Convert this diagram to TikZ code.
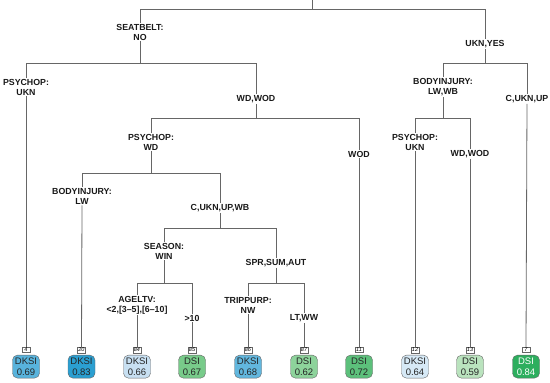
\documentclass[tikz,border=0pt]{standalone}
\usepackage{fontspec}
\setmainfont{Liberation Sans}
\usepackage{tikz}
\usetikzlibrary{positioning}
\usepackage{xcolor}
\definecolor{edgegray}{HTML}{666666}
\definecolor{dksiA}{HTML}{58B3DC}
\definecolor{dksiB}{HTML}{2B9FD1}
\definecolor{dksiC}{HTML}{C8E0F2}
\definecolor{dksiD}{HTML}{62B7DE}
\definecolor{dksiE}{HTML}{D6E9F6}
\definecolor{dsiA}{HTML}{78CB8A}
\definecolor{dsiB}{HTML}{8DD39B}
\definecolor{dsiC}{HTML}{5CC07B}
\definecolor{dsiD}{HTML}{BAE3BE}
\definecolor{dsiE}{HTML}{2DAE5E}

\begin{document}
\begin{tikzpicture}[
      x=1pt, y=-1pt,
      node distance=2pt,
      split/.style={font=\bfseries\fontsize{8.8}{10}\selectfont, align=center,
                    inner sep=1pt, text=black!90},
      leafbox/.style={draw=edgegray, rounded corners=5pt, minimum width=27pt,
                      minimum height=23pt, inner sep=0pt, align=center,
                      font=\fontsize{9.5}{10.5}\selectfont, text=black!85},
      tag/.style={draw=edgegray, fill=white, inner sep=0.8pt, minimum width=8pt,
                  font=\itshape\fontsize{5.5}{5.5}\selectfont},
      edge/.style={draw=edgegray, line width=0.8pt}
    ]
    \useasboundingbox (0,0) rectangle (550,383);
    \coordinate (top) at (312,0);
    % splits
    \node[split] (seat) at (140,32) {SEATBELT:\\NO};
    \node[split] (ukyes) at (485,44) {UKN,YES};
    \node[split] (psyA) at (26,87) {PSYCHOP:\\UKN};
    \node[split] (wdwod) at (256,99) {WD,WOD};
    \node[split] (bodyB) at (443,87) {BODYINJURY:\\LW,WB};
    \node[split] (cukup) at (527,99) {C,UKN,UP};
    \node[split] (psyB) at (151,142) {PSYCHOP:\\WD};
    \node[split] (wod) at (359,154) {WOD};
    \node[split] (psyC) at (415,142) {PSYCHOP:\\UKN};
    \node[split] (wdwodB) at (470,154) {WD,WOD};
    \node[split] (bodyA) at (82,196) {BODYINJURY:\\LW};
    \node[split] (cukn) at (220,208) {C,UKN,UP,WB};
    \node[split] (season) at (164,251) {SEASON:\\WIN};
    \node[split] (spr) at (276,263) {SPR,SUM,AUT};
    \node[split] (age) at (137,305) {AGELTV:\\<2,[3--5],[6--10]};
    \node[split] (gtten) at (192,318) {>10};
    \node[split] (trip) at (248,305) {TRIPPURP:\\NW};
    \node[split] (ltww) at (304,318) {LT,WW};
    % leaves
    \node[tag] (t4) at (26,350) {4};
    \node[leafbox, fill=dksiA, below=of t4] (l4) {DKSI\\0.69};
    \node[tag] (t20) at (81.5,350) {20};
    \node[leafbox, fill=dksiB, below=of t20] (l20) {DKSI\\0.83};
    \node[tag] (t84) at (137,350) {84};
    \node[leafbox, fill=dksiC, below=of t84] (l84) {DKSI\\0.66};
    \node[tag] (t85) at (192,350) {85};
    \node[leafbox, fill=dsiA, below=of t85] (l85) {DSI\\0.67};
    \node[tag] (t86) at (248,350) {86};
    \node[leafbox, fill=dksiD, below=of t86] (l86) {DKSI\\0.68};
    \node[tag] (t87) at (304,350) {87};
    \node[leafbox, fill=dsiB, below=of t87] (l87) {DSI\\0.62};
    \node[tag] (t11) at (359,350) {11};
    \node[leafbox, fill=dsiC, below=of t11] (l11) {DSI\\0.72};
    \node[tag] (t12) at (415,350) {12};
    \node[leafbox, fill=dksiE, below=of t12] (l12) {DKSI\\0.64};
    \node[tag] (t13) at (470,350) {13};
    \node[leafbox, fill=dsiD, below=of t13] (l13) {DSI\\0.59};
    \node[tag] (t7) at (526,350) {7};
    \node[leafbox, fill=dsiE, text=white, below=of t7] (l7) {DSI\\0.84};
    % branches
    \draw[edge] (top) -- (top |- 0,9);
    \draw[edge] (seat.north) |- (ukyes.north |- 0,9) -- (ukyes.north);
    \draw[edge] (seat.south) -- (seat.south |- 0,63) -| (psyA.north);
    \draw[edge] (seat.south |- 0,63) -| (wdwod.north);
    \draw[edge] (ukyes.south) -- (ukyes.south |- 0,63) -| (bodyB.north);
    \draw[edge] (ukyes.south |- 0,63) -| (cukup.north);
    \draw[edge] (wdwod.south) -- (wdwod.south |- 0,118) -| (psyB.north);
    \draw[edge] (wdwod.south |- 0,118) -| (wod.north);
    \draw[edge] (bodyB.south) -- (bodyB.south |- 0,118) -| (psyC.north);
    \draw[edge] (bodyB.south |- 0,118) -| (wdwodB.north);
    \draw[edge] (psyB.south) -- (psyB.south |- 0,173) -| (bodyA.north);
    \draw[edge] (psyB.south |- 0,173) -| (cukn.north);
    \draw[edge] (cukn.south) -- (cukn.south |- 0,228) -| (season.north);
    \draw[edge] (cukn.south |- 0,228) -| (spr.north);
    \draw[edge] (season.south) -- (season.south |- 0,283) -| (age.north);
    \draw[edge] (season.south |- 0,283) -| (gtten.north);
    \draw[edge] (spr.south) -- (spr.south |- 0,283) -| (trip.north);
    \draw[edge] (spr.south |- 0,283) -| (ltww.north);
    % to leaves
    \draw[edge] (psyA.south) -- (t4.north);
    \draw[edge] (bodyA.south) -- (t20.north);
    \draw[edge] (age.south) -- (t84.north);
    \draw[edge] (gtten.south) -- (t85.north);
    \draw[edge] (trip.south) -- (t86.north);
    \draw[edge] (ltww.south) -- (t87.north);
    \draw[edge] (wod.south) -- (t11.north);
    \draw[edge] (psyC.south) -- (t12.north);
    \draw[edge] (wdwodB.south) -- (t13.north);
    \draw[edge] (cukup.south) -- (t7.north);
  \end{tikzpicture}
\end{document}
